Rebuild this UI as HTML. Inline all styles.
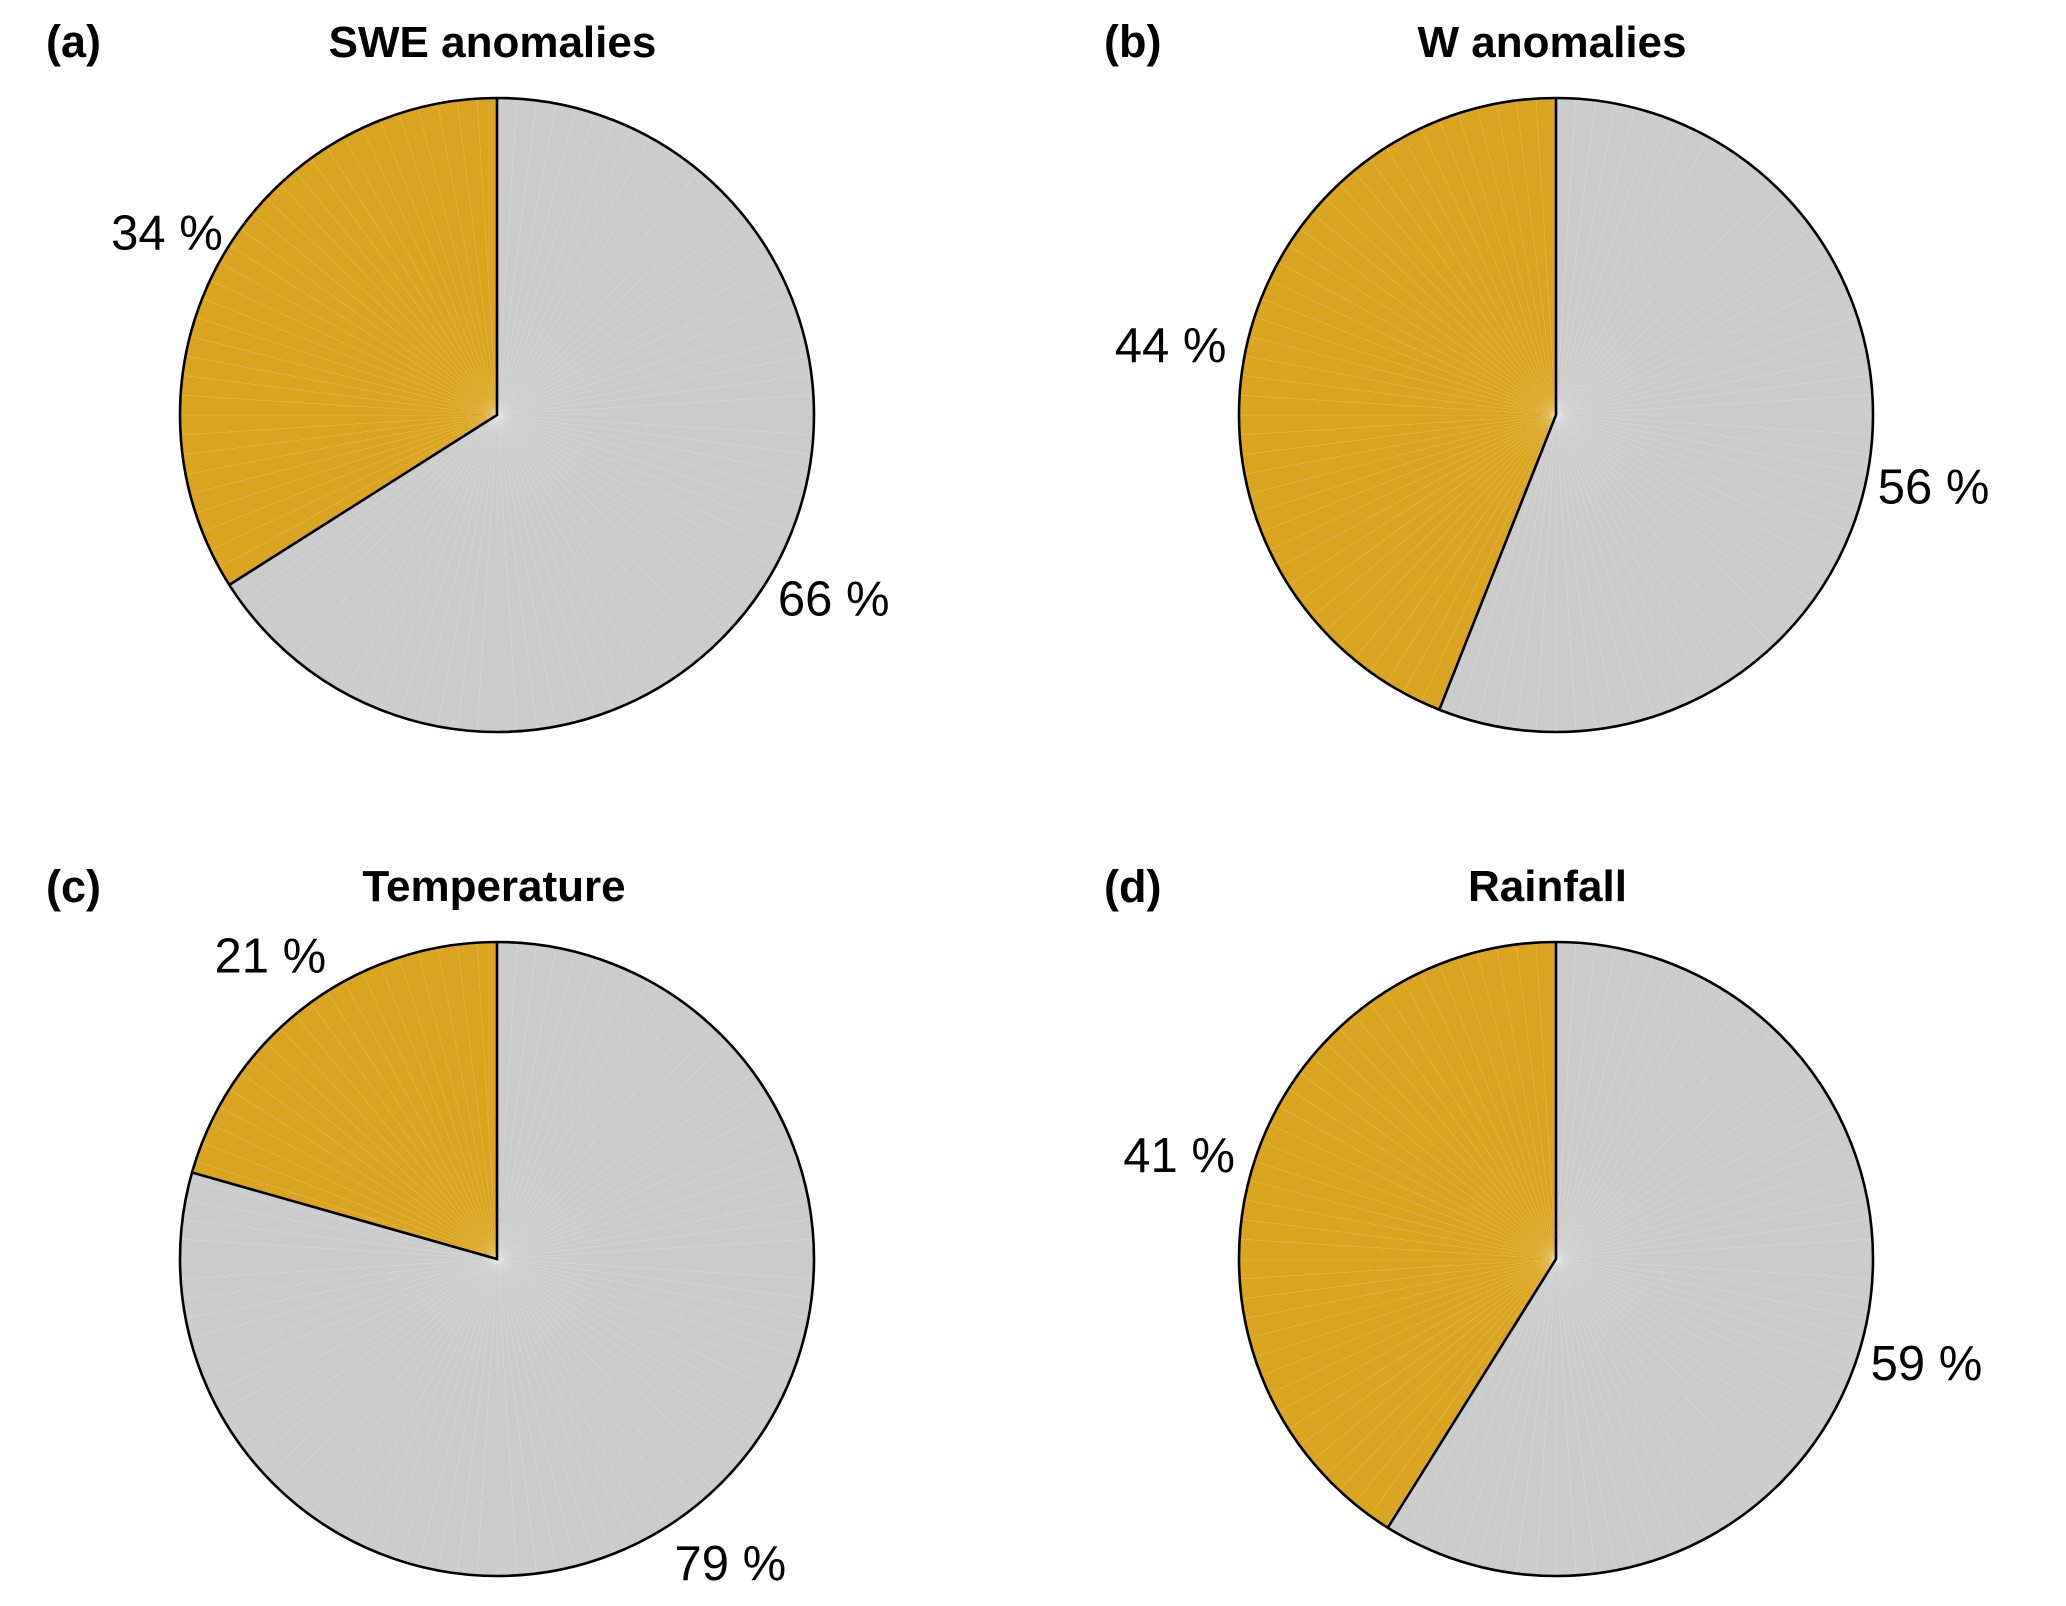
<!DOCTYPE html>
<html lang="en">
<head>
<meta charset="utf-8">
<title>Anomaly pie charts</title>
<style>
html,body{margin:0;padding:0;background:#fff;}
svg{display:block;}
text{font-family:"Liberation Sans",Arial,sans-serif;fill:#000;}
.title{font-weight:bold;font-size:44px;}
.letter{font-weight:bold;font-size:45px;}
.pct{font-size:49px;}
</style>
</head>
<body>
<svg id="chart" width="2066" height="1606" viewBox="0 0 2066 1606" xmlns="http://www.w3.org/2000/svg">
  <rect x="0" y="0" width="2066" height="1606" fill="#ffffff"/>
  <text class="letter" x="46" y="57">(a)</text>
  <text class="letter" x="1104" y="57">(b)</text>
  <text class="letter" x="46" y="902">(c)</text>
  <text class="letter" x="1104" y="902">(d)</text>
  <text class="title" x="492.5" y="57" text-anchor="middle">SWE anomalies</text>
  <text class="title" x="1552" y="57" text-anchor="middle">W anomalies</text>
  <text class="title" x="494" y="901" text-anchor="middle">Temperature</text>
  <text class="title" x="1547.5" y="901" text-anchor="middle">Rainfall</text>
</svg>
<script>
// Chart data
const panelNames = ['swe-anomalies', 'w-anomalies', 'temperature', 'rainfall'];
const grayPercent = [66, 56, 79.4, 58.9];
const goldPercent = [34, 44, 20.6, 41.1];

const NS = 'http://www.w3.org/2000/svg';
const svg = document.getElementById('chart');
const RADIUS = 317;
const LABEL_RADIUS = 385;
const COLUMNS = [497, 1556];
const ROWS = [415, 1259];
const GOLD = '#DAA520';
const GRAY = '#CCCCCC';
const STROKE = '2.6';
// Hand-tuned layout nudges relative to each computed label anchor.
const LABEL_LAYOUT = {
  gray: [{dx: -0.6, dy: -7.1}, {dx: -0.6, dy: -5.8}, {dx: 1.2, dy: -8.3}, {dx: 0.4, dy: -7}],
  gold: [{dx: 7.4, dy: -1.8}, {dx: -7.2, dy: -3.1}, {dx: 5.5, dy: -1.3}, {dx: -6.9, dy: -2.6}]
};

// Axis function: cumulative percent -> clockwise angle from 12 o'clock
function angleOf(percent, total) {
  return percent / total * 2 * Math.PI;
}
function pointAt(cx, cy, r, angle) {
  return [cx + r * Math.sin(angle), cy - r * Math.cos(angle)];
}
function wedgePath(cx, cy, r, a0, a1) {
  const p0 = pointAt(cx, cy, r, a0);
  const p1 = pointAt(cx, cy, r, a1);
  const large = (a1 - a0) > Math.PI ? 1 : 0;
  return 'M' + cx + ' ' + cy + 'L' + p0[0] + ' ' + p0[1] +
         'A' + r + ' ' + r + ' 0 ' + large + ' 1 ' + p1[0] + ' ' + p1[1] + 'Z';
}
function drawSlice(group, cx, cy, start, value, total, color) {
  // The slice is a fan of wedges on a one-percent grid, like the reference.
  const step = total / 100;
  const end = start + value;
  let from = start;
  while (from < end - 1e-9) {
    const to = Math.min(end, (Math.floor(from / step + 1e-9) + 1) * step);
    const w = document.createElementNS(NS, 'path');
    w.setAttribute('d', wedgePath(cx, cy, RADIUS, angleOf(from, total), angleOf(to, total)));
    w.setAttribute('fill', color);
    
    
    group.appendChild(w);
    if (to < end - 1e-9) {
      const tip = pointAt(cx, cy, RADIUS, angleOf(to, total));
      const seam = document.createElementNS(NS, 'line');
      seam.setAttribute('x1', cx);
      seam.setAttribute('y1', cy);
      seam.setAttribute('x2', tip[0]);
      seam.setAttribute('y2', tip[1]);
      seam.setAttribute('stroke', '#ffffff');
      seam.setAttribute('stroke-opacity', '0.22');
      seam.setAttribute('stroke-width', '0.7');
      
      
      group.appendChild(seam);
    }
    from = to;
  }
}
function drawLabel(group, cx, cy, start, value, total, nudge, name) {
  const mid = angleOf(start + value / 2, total);
  const p = pointAt(cx, cy, LABEL_RADIUS, mid);
  const t = document.createElementNS(NS, 'text');
  t.setAttribute('class', 'pct');
  t.setAttribute('x', p[0] + nudge.dx);
  t.setAttribute('y', p[1] + 22 + nudge.dy);
  t.setAttribute('text-anchor', 'middle');
  
  
  t.textContent = Math.round(value) + ' %';
  group.appendChild(t);
}

panelNames.forEach(function (name, i) {
  const cx = COLUMNS[i % 2];
  const cy = ROWS[Math.floor(i / 2)];
  const gray = grayPercent[i];
  const gold = goldPercent[i];
  const total = gray + gold;

  const g = document.createElementNS(NS, 'g');
  
  
  svg.appendChild(g);

  drawSlice(g, cx, cy, 0, gray, total, GRAY);
  drawSlice(g, cx, cy, gray, gold, total, GOLD);

  const edge = pointAt(cx, cy, RADIUS, angleOf(gray, total));
  const outline = document.createElementNS(NS, 'path');
  outline.setAttribute('d',
    'M' + edge[0] + ' ' + edge[1] + 'L' + cx + ' ' + cy + 'L' + cx + ' ' + (cy - RADIUS));
  outline.setAttribute('fill', 'none');
  outline.setAttribute('stroke', '#000');
  outline.setAttribute('stroke-width', STROKE);
  outline.setAttribute('stroke-linejoin', 'miter');
  
  
  g.appendChild(outline);

  const circle = document.createElementNS(NS, 'circle');
  circle.setAttribute('cx', cx);
  circle.setAttribute('cy', cy);
  circle.setAttribute('r', RADIUS);
  circle.setAttribute('fill', 'none');
  circle.setAttribute('stroke', '#000');
  circle.setAttribute('stroke-width', STROKE);
  
  
  g.appendChild(circle);

  drawLabel(g, cx, cy, 0, gray, total, LABEL_LAYOUT.gray[i], 'percent-label-gray');
  drawLabel(g, cx, cy, gray, gold, total, LABEL_LAYOUT.gold[i], 'percent-label-gold');
});
</script>
</body>
</html>
